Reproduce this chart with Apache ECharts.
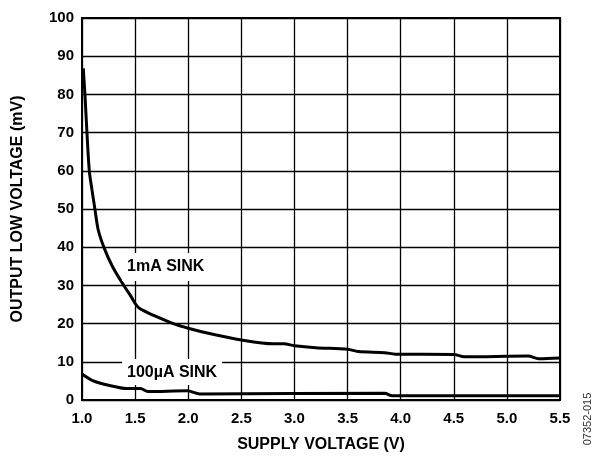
<!DOCTYPE html>
<html>
<head>
<meta charset="utf-8">
<script src="https://cdn.jsdelivr.net/npm/echarts@6/dist/echarts.min.js"></script>
<style>html,body{margin:0;padding:0;background:#fff}#c{width:597px;height:456px}</style>
</head>
<body>
<div id="c"></div>
<script>
var sink1mA_V = [1.012, 1.028, 1.047, 1.069, 1.094, 1.122, 1.153, 1.21, 1.288, 1.40, 1.46, 1.5, 1.54, 1.67, 1.86, 2.0, 2.2, 2.5, 2.8, 2.9, 3.0, 3.2, 3.5, 3.6, 3.85, 3.95, 4.5, 4.6, 5.2, 5.3, 5.5];
var sink1mA_mV = [86.8, 79.8, 69.8, 59.9, 55, 49.9, 44.5, 39.7, 34.9, 29.7, 27.2, 25.3, 24.0, 22.2, 20, 18.8, 17.4, 15.7, 14.7, 14.7, 14.2, 13.7, 13.3, 12.7, 12.4, 12.0, 11.9, 11.3, 11.5, 10.8, 11.0];
var sink100uA_V = [1.0, 1.1, 1.26, 1.42, 1.55, 1.62, 1.99, 2.11, 3.85, 3.92, 5.5];
var sink100uA_mV = [6.8, 5.1, 3.8, 3.0, 3.0, 2.2, 2.4, 1.6, 1.75, 1.1, 1.1];
var xTicks = ['1.0','1.5','2.0','2.5','3.0','3.5','4.0','4.5','5.0','5.5'];
var seriesLabels = ['1mA SINK', '100µA SINK'];

function pairs(xs, ys){ return xs.map(function(x,i){return [x, ys[i]];}); }

var chart = echarts.init(document.getElementById('c'));
var font = 'Liberation Sans, Arial, sans-serif';
chart.setOption({
  animation: false,
  grid: {left: 82, right: 37, top: 18, bottom: 56, show: true, borderColor: '#000', borderWidth: 2, containLabel: false, outerBoundsMode: 'none'},
  xAxis: {
    type: 'value', min: 1, max: 5.5, interval: 0.5,
    name: 'SUPPLY VOLTAGE (V)', nameLocation: 'middle', nameGap: 37,
    nameTextStyle: {fontFamily: font, fontWeight: 'bold', fontSize: 16, color: '#000'},
    axisLine: {lineStyle: {color: '#000', width: 2}},
    axisTick: {show: false},
    axisLabel: {fontFamily: font, fontWeight: 'bold', fontSize: 15, color: '#000', margin: 11,
      formatter: function(v){ var i = Math.round((v-1)/0.5); return xTicks[i] || ''; }},
    splitLine: {show: true, lineStyle: {color: '#000', width: 1.3}}
  },
  yAxis: {
    type: 'value', min: 0, max: 100, interval: 10,
    name: 'OUTPUT LOW VOLTAGE (mV)', nameLocation: 'middle', nameGap: 56,
    nameTextStyle: {fontFamily: font, fontWeight: 'bold', fontSize: 16, color: '#000'},
    axisLine: {show: true, lineStyle: {color: '#000', width: 2}},
    axisTick: {show: false},
    axisLabel: {fontFamily: font, fontWeight: 'bold', fontSize: 15, color: '#000', margin: 8},
    splitLine: {show: true, lineStyle: {color: '#000', width: 1.3}}
  },
  series: [
    {type: 'line', data: pairs(sink1mA_V, sink1mA_mV), smooth: 0.3, symbol: 'none',
     lineStyle: {color: '#000', width: 3}},
    {type: 'line', data: pairs(sink100uA_V, sink100uA_mV), smooth: 0.3, symbol: 'none',
     lineStyle: {color: '#000', width: 3}}
  ],
  graphic: [
    {type: 'text', left: 122, top: 253, z: 100,
     style: {text: seriesLabels[0], font: 'bold 16px ' + font, fill: '#000', backgroundColor: '#fff', padding: [6, 6, 6, 5]}},
    {type: 'text', left: 122, top: 359, z: 100,
     style: {text: seriesLabels[1], font: 'bold 16px ' + font, fill: '#000', backgroundColor: '#fff', padding: [6, 5, 4, 5]}},
    {type: 'text', x: 588, y: 419, rotation: Math.PI/2, z: 100,
     style: {text: '07352-015', font: '11px ' + font, fill: '#333', textAlign: 'center', textVerticalAlign: 'middle'}}
  ]
});
</script>
</body>
</html>
